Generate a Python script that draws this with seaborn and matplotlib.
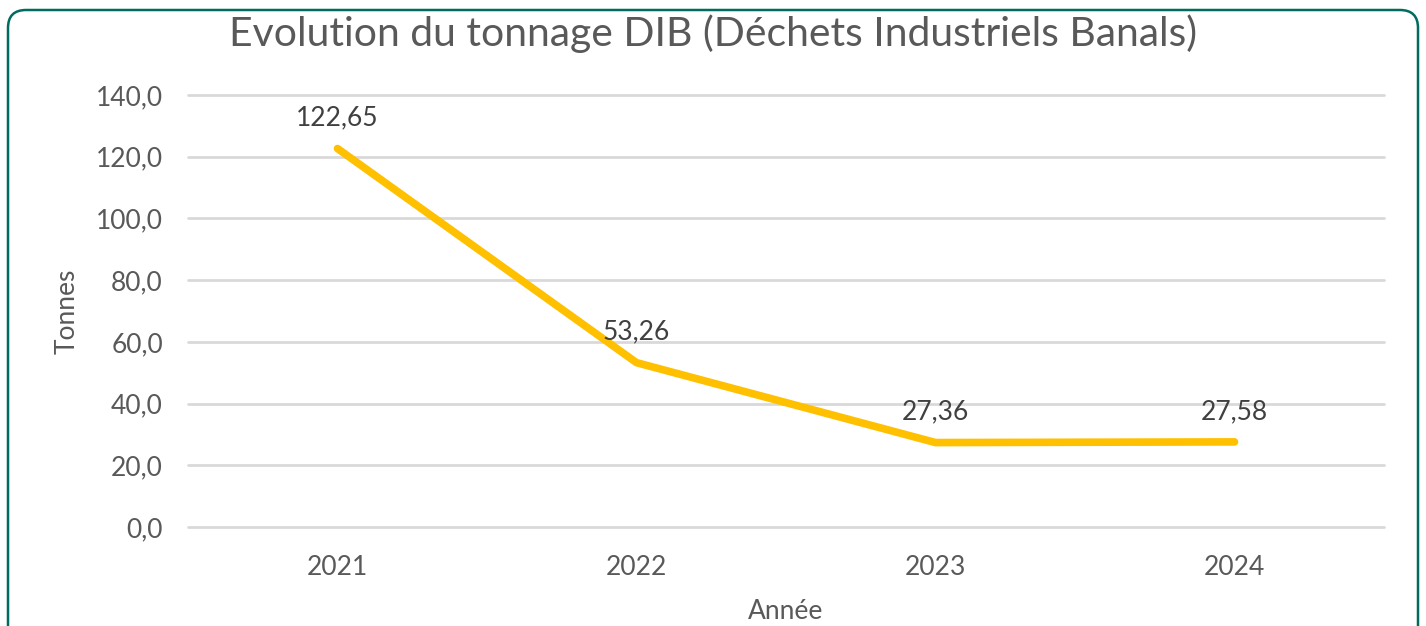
import pandas as pd
import seaborn as sns
import matplotlib.pyplot as plt
from matplotlib.patches import FancyBboxPatch

annees = ['2021', '2022', '2023', '2024']
tonnes = [122.65, 53.26, 27.36, 27.58]
labels = ['122,65', '53,26', '27,36', '27,58']
yticks = [0, 20, 40, 60, 80, 100, 120, 140]

df = pd.DataFrame({'Année': annees, 'Tonnes': tonnes})

sns.set_theme(style='white')
plt.rcParams['font.family'] = ['Lato', 'DejaVu Sans']

gris = '#595959'
fig = plt.figure(figsize=(14.26, 6.26), dpi=100)
ax = fig.add_axes([188 / 1426, 1 - 527 / 626, 1196 / 1426, 432 / 626])

sns.lineplot(data=df, x='Année', y='Tonnes', ax=ax, color='#FFC000', linewidth=5.5, sort=False)

ax.set_xlim(-0.5, 3.5)
ax.set_ylim(0, 140)
ax.set_yticks(yticks)
ax.set_yticklabels([('%.1f' % v).replace('.', ',') for v in yticks])
ax.tick_params(axis='both', labelsize=19, colors=gris, length=0)
ax.tick_params(axis='y', pad=18)
ax.tick_params(axis='x', pad=20)
ax.grid(axis='y', color='#D9D9D9', linewidth=2)
for gl in ax.get_ygridlines():
    gl.set_clip_on(False)
sns.despine(ax=ax, left=True, bottom=True)

for i, (v, lab) in enumerate(zip(tonnes, labels)):
    ax.annotate(lab, (i, v), xytext=(0, 22), textcoords='offset points',
                ha='center', va='center', fontsize=19, color='#404040')

ax.set_xlabel('Année', fontsize=19, color=gris, labelpad=14)
ax.set_ylabel('Tonnes', fontsize=19, color=gris, labelpad=12)

fig.text(0.5, 1 - 34 / 626, 'Evolution du tonnage DIB (Déchets Industriels Banals)',
         ha='center', va='center', fontsize=29.4, color=gris)

cadre = FancyBboxPatch((8, -40), 1410, 656, boxstyle='round,pad=0,rounding_size=18',
                       transform=None, facecolor='none', edgecolor='#006B5F', linewidth=1.8)
fig.patches.append(cadre)

plt.savefig('out.png', dpi=100)
